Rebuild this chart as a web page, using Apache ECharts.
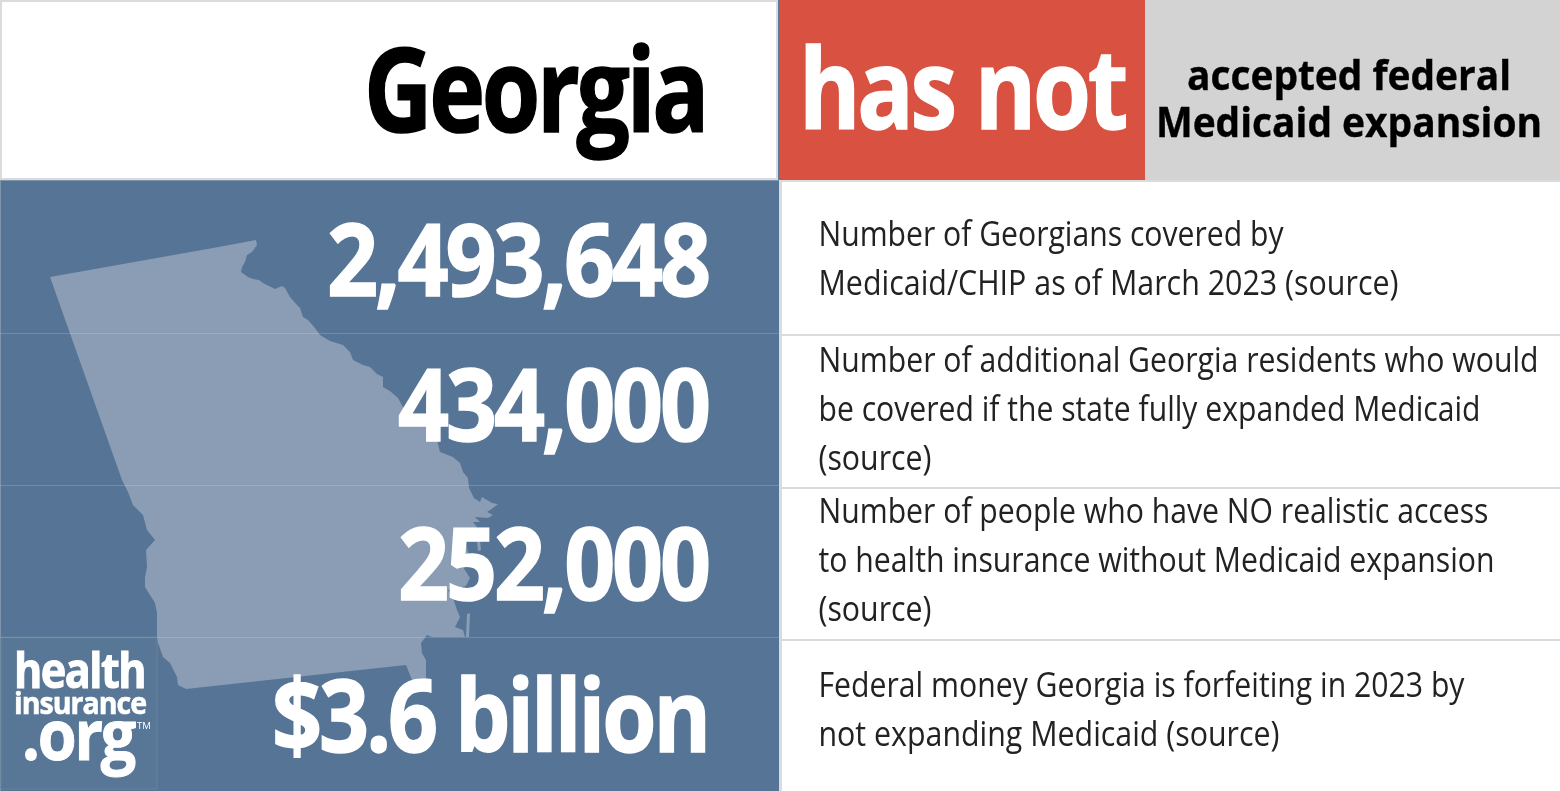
<!DOCTYPE html>
<html><head><meta charset="utf-8">
<style>html,body{margin:0;padding:0;background:#fff}#c{width:1560px;height:791px}</style>
<script src="https://cdn.jsdelivr.net/npm/echarts@6/dist/echarts.min.js"></script>
</head><body><div id="c"></div>
<script>
var stateName = 'Georgia';
var statusWord = 'has not';
var statusLines = ['accepted federal', 'Medicaid expansion'];
var figures = ['2,493,648', '434,000', '252,000', '$3.6 billion'];
var descriptions = [
  ['Number of Georgians covered by', 'Medicaid/CHIP as of March 2023 (source)'],
  ['Number of additional Georgia residents who would', 'be covered if the state fully expanded Medicaid', '(source)'],
  ['Number of people who have NO realistic access', 'to health insurance without Medicaid expansion', '(source)'],
  ['Federal money Georgia is forfeiting in 2023 by', 'not expanding Medicaid (source)']
];
var logoLines = ['health', 'insurance', '.org'];

var FONT = '"Open Sans"';
var figureBaselines = [294, 439, 598, 750];
var figureRight = 708;
var figureWidths = [381, 310, 310, 436];
var descBaselines = [[245, 294], [371, 420, 469], [522, 571, 620], [696, 745]];
var descWidths = [[465, 580], [720, 662, 113], [670, 676, 113], [646, 461]];
var rowLines = [334, 487, 639];
var stateOutline = [[50,277],[213,248],[256,240],[257,245],[252,252],[247,255],[245,262],[242,267],[241,272],[248,277],[253,279],[259,280],[263,283],[275,289],[282,286],[285,288],[290,297],[297,305],[300,308],[303,317],[308,320],[315,328],[320,335],[330,341],[343,345],[350,352],[353,360],[363,365],[370,367],[377,374],[383,377],[383,387],[390,391],[398,398],[403,407],[420,420],[437,440],[440,452],[453,457],[460,463],[463,472],[468,478],[469,488],[474,498],[480,502],[482,497],[492,503],[498,504],[493,508],[487,512],[493,515],[488,518],[475,517],[480,522],[473,522],[477,527],[470,535],[466,541],[468,553],[463,567],[470,578],[466,586],[448,590],[453,598],[457,610],[460,617],[455,627],[463,630],[465,637],[442,637],[432,637],[427,635],[421,643],[422,653],[426,660],[426,680],[412,680],[408,670],[406,665],[186,689],[178,685],[177,677],[170,663],[163,657],[157,640],[157,613],[155,603],[145,587],[145,577],[147,567],[146,550],[155,540],[147,530],[143,515],[133,505],[128,492],[122,480]];
var islandA = [[477,542],[480,541],[481,550],[478,551]];
var islandB = [[467,614],[470,613],[469,637],[466,637]];

var SPACING = -0.035;
function spacingFor(sizePx) { return sizePx >= 48 || sizePx === 31 ? sizePx * SPACING : 0; }
['fillText', 'strokeText'].forEach(function (m) {
  var orig = CanvasRenderingContext2D.prototype[m];
  CanvasRenderingContext2D.prototype[m] = function () {
    var px = parseFloat((/([\d.]+)px/.exec(this.font) || [0, 0])[1]);
    this.letterSpacing = spacingFor(px) + 'px';
    var r = orig.apply(this, arguments);
    this.letterSpacing = '0px';
    return r;
  };
});
var ctx = document.createElement('canvas').getContext('2d');
function fitText(str, left, baseline, width, size, weight, fill, thick) {
  var font = weight + ' ' + size + 'px ' + FONT;
  ctx.font = font;
  ctx.letterSpacing = spacingFor(size) + 'px';
  var w = ctx.measureText(str).width;
  var style = { text: str, x: 0, y: -size * 0.765, font: font, fill: fill, align: 'left', verticalAlign: 'top', lineHeight: size };
  if (thick) { style.stroke = fill; style.lineWidth = thick; }
  return { type: 'text', x: left, y: baseline, scaleX: width / w, scaleY: 1, z: 10, style: style };
}
function rect(x, y, w, h, fill, z) {
  return { type: 'rect', shape: { x: x, y: y, width: w, height: h }, style: { fill: fill }, z: z || 1, silent: true };
}
var BLUE = '#567495', WHITE = '#ffffff', EDGE = '#d9dcdf', LAND = '#8a9db5';
var g = [];
g.push(rect(0, 0, 1560, 791, WHITE));
g.push(rect(0, 180, 779, 611, BLUE));
g.push(rect(779, 0, 366, 180, '#d95141'));
g.push(rect(1145, 0, 415, 180, '#d3d3d3'));
g.push(rect(0, 0, 778, 2, EDGE), rect(0, 0, 2, 180, EDGE), rect(0, 178, 778, 2, EDGE), rect(776, 0, 2, 180, EDGE));
g.push(rect(778, 0, 2, 180, '#5a7a9c'));
g.push(rect(779, 180, 3, 611, EDGE), rect(779, 180, 781, 2, EDGE));
g.push(rect(0, 180, 779, 1, '#7f94ab'), rect(0, 180, 1, 611, '#7f94ab'));
[stateOutline, islandA, islandB].forEach(function (pts) {
  g.push({ type: 'polygon', shape: { points: pts }, style: { fill: LAND }, z: 3, silent: true });
});
g.push({ type: 'rect', shape: { x: 1, y: 637, width: 156, height: 152 }, style: { fill: '#587695', stroke: '#668099', lineWidth: 1 }, z: 3 });
rowLines.forEach(function (y, i) {
  g.push(rect(780, y, 780, 2, EDGE));
  g.push(rect(0, [333, 485, 637][i], 779, 1, 'rgba(255,255,255,0.17)', 4));
});

g.push(fitText(stateName, 364, 130, 342, 116, 'bold', '#000', 1.5));
g.push(fitText(statusWord, 799, 127, 326, 112, 'bold', '#fff', 1.5));
g.push(fitText(statusLines[0], 1187, 89, 324, 42, 'bold', '#000', 0.4));
g.push(fitText(statusLines[1], 1156, 136, 386, 42, 'bold', '#000', 0.4));
figures.forEach(function (s, i) {
  g.push(fitText(s, figureRight - figureWidths[i], figureBaselines[i], figureWidths[i], 101, 'bold', '#fff', 1.5));
});
descriptions.forEach(function (lines, i) {
  lines.forEach(function (s, j) {
    g.push(fitText(s, 818.5, descBaselines[i][j], descWidths[i][j], 34, 'normal', '#222'));
  });
});
g.push(fitText(logoLines[0], 14, 687, 131, 48, 'bold', '#fff', 1));
g.push(fitText(logoLines[1], 14, 713, 132, 31, 'bold', '#fff', 0.6));
g.push(fitText(logoLines[2], 22, 759, 112, 70, 'bold', '#fff', 1));
g.push(fitText('TM', 137, 729, 14, 9, 'normal', '#fff'));

var chart = echarts.init(document.getElementById('c'), null, { renderer: 'canvas', width: 1560, height: 791 });
chart.setOption({ animation: false, graphic: { elements: g } });
</script></body></html>
